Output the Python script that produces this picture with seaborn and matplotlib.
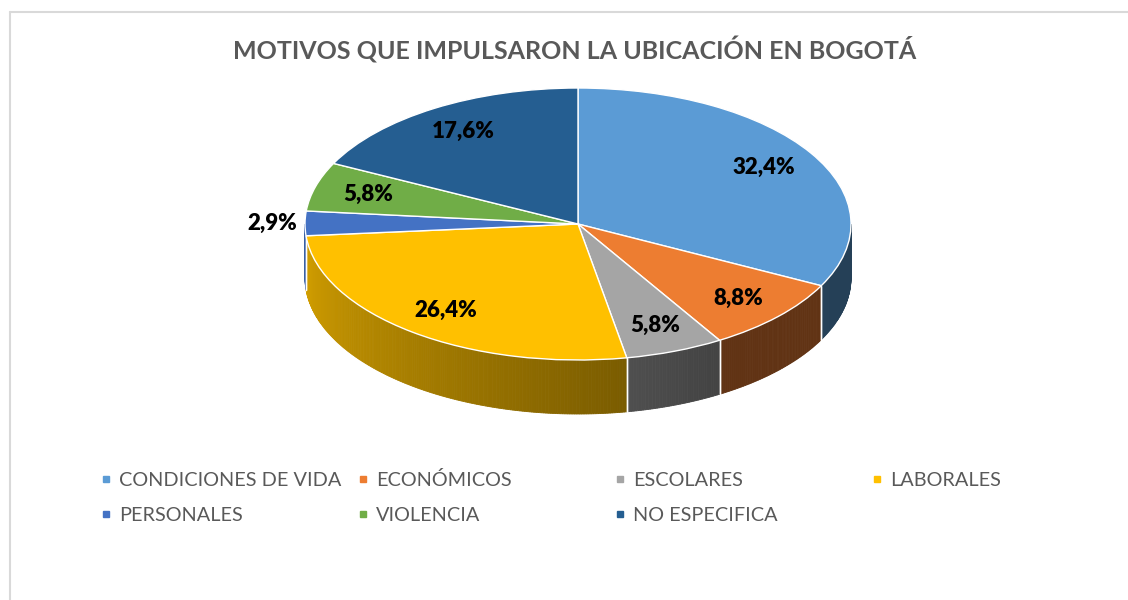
import numpy as np
import matplotlib
matplotlib.use('Agg')
import matplotlib.pyplot as plt
from matplotlib.colors import to_rgb
from matplotlib.lines import Line2D
import seaborn as sns

categorias = ['CONDICIONES DE VIDA', 'ECONÓMICOS', 'ESCOLARES', 'LABORALES',
              'PERSONALES', 'VIOLENCIA', 'NO ESPECIFICA']
porcentajes = [32.4, 8.8, 5.8, 26.4, 2.9, 5.8, 17.6]
colores = ['#5b9bd5', '#ed7d31', '#a5a5a5', '#ffc000', '#4472c4', '#70ad47', '#255e91']
titulo = 'MOTIVOS QUE IMPULSARON LA UBICACIÓN EN BOGOTÁ'

sns.set_theme(style='white')
plt.rcParams['font.family'] = ['Lato', 'DejaVu Sans']

W, H = 1128, 600
fig = plt.figure(figsize=(W / 100, H / 100), dpi=100)

# geometria del pastel en pixeles (elipse superior + profundidad)
cx, cy = 578, 224
rx, ry = 273, 136
depth = 54 / ry
xlim = (-1.3, 1.3)
ylim = (-1.7, 1.2)
ax = fig.add_axes([(cx + xlim[0] * rx) / W, 1 - (cy - ylim[0] * ry) / H,
                   (xlim[1] - xlim[0]) * rx / W, (ylim[1] - ylim[0]) * ry / H])

wedges, _ = ax.pie(porcentajes, colors=colores, startangle=90, counterclock=False,
                   wedgeprops=dict(edgecolor='white', linewidth=1.0, zorder=3))
ax.set_aspect('auto')
ax.set_xlim(xlim)
ax.set_ylim(ylim)
ax.axis('off')


def shade(phi):
    return max(0.41, 0.85 - 0.37 * (phi + 180) / 100)


# paredes laterales (solo la mitad frontal)
for w, c in zip(wedges, colores):
    base = np.array(to_rgb(c))
    for k in (-360, 0, 360):
        lo = max(w.theta1 + k, -180)
        hi = min(w.theta2 + k, 0)
        if hi <= lo:
            continue
        n = max(2, int((hi - lo) / 0.5) + 1)
        ph = np.linspace(lo, hi, n)
        for a, b in zip(ph[:-1], ph[1:]):
            ra, rb = np.radians([a, b])
            xs = [np.cos(ra), np.cos(rb), np.cos(rb), np.cos(ra)]
            ys = [np.sin(ra), np.sin(rb), np.sin(rb) - depth, np.sin(ra) - depth]
            col = base * shade((a + b) / 2)
            ax.fill(xs, ys, color=col, lw=0.6, ec=col, zorder=1)
        for edge in (lo, hi):
            if -179 < edge < -1:
                r = np.radians(edge)
                ax.plot([np.cos(r)] * 2, [np.sin(r), np.sin(r) - depth],
                        color='white', lw=1, zorder=2)

# etiquetas de datos
for w, v in zip(wedges, porcentajes):
    mid = np.radians((w.theta1 + w.theta2) / 2)
    dist = 0.8 if v > 4 else 1.12
    ax.text(dist * np.cos(mid), dist * np.sin(mid), f'{v:.1f}%'.replace('.', ','),
            ha='center', va='center', fontsize=16, fontweight='heavy',
            color='black', zorder=5)

fig.text(575 / W, 1 - 50 / H, titulo, ha='center', va='center',
         fontsize=18, fontweight='bold', color='#595959')

# marco del area del grafico
fig.add_artist(Line2D([10 / W, 10 / W], [0, 1 - 12 / H], transform=fig.transFigure,
                      color='#d9d9d9', lw=1.5))
fig.add_artist(Line2D([10 / W, 1], [1 - 12 / H, 1 - 12 / H], transform=fig.transFigure,
                      color='#d9d9d9', lw=1.5))

# leyenda: 4 columnas de igual ancho, 2 filas
for i, (cat, c) in enumerate(zip(categorias, colores)):
    col, row = i % 4, i // 4
    h = Line2D([], [], marker='s', ls='', markersize=5, color=c)
    fig.legend([h], [cat], loc='lower left',
               bbox_to_anchor=((101 + 257 * col) / W, 1 - (489 + 35 * row) / H),
               frameon=False, fontsize=14.3, handlelength=0.5,
               handletextpad=0.4, borderpad=0, borderaxespad=0,
               labelcolor='#595959')

fig.savefig('out.png', dpi=100)
